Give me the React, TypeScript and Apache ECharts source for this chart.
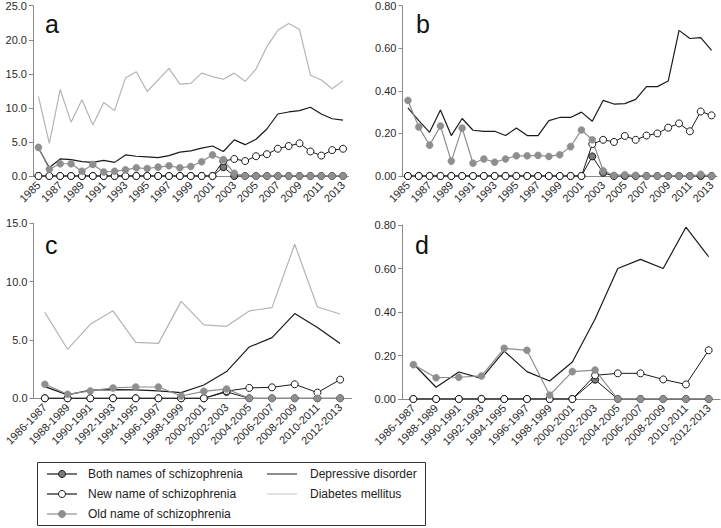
import React, { useEffect, useRef } from "react";
import * as echarts from "echarts";

// ---- data ----
const yearsA: string[] = [];
for (let y = 1985; y <= 2013; y++) yearsA.push(String(y));
const periods = [
  "1986-1987", "1988-1989", "1990-1991", "1992-1993", "1994-1995", "1996-1997", "1998-1999",
  "2000-2001", "2002-2003", "2004-2005", "2006-2007", "2008-2009", "2010-2011", "2012-2013",
];

// panel a
const aDiabetes = [11.7, 4.8, 12.7, 7.9, 11.2, 7.5, 10.8, 9.6, 14.4, 15.3, 12.4, 14.1, 15.8, 13.5, 13.6, 15.1, 14.6, 14.2, 15.1, 13.9, 15.7, 19.0, 21.4, 22.4, 21.5, 14.8, 14.1, 12.8, 14.0];
const aDepressive = [4.1, 1.2, 2.5, 2.4, 2.1, 2.0, 2.3, 2.0, 3.1, 2.9, 2.8, 2.7, 3.0, 3.5, 3.7, 4.1, 4.4, 3.6, 5.3, 4.6, 5.4, 6.9, 9.1, 9.4, 9.6, 10.1, 9.1, 8.4, 8.2];
const aBoth = [0, 0, 0, 0, 0, 0, 0, 0, 0, 0, 0, 0, 0, 0, 0, 0, 0, 1.3, 0, 0, 0, 0, 0, 0, 0, 0, 0, 0, 0];
const aNew = [0, 0, 0, 0, 0, 0, 0, 0, 0, 0, 0, 0, 0, 0, 0, 0, 0, 2.2, 2.5, 2.2, 2.9, 3.2, 4.0, 4.4, 4.8, 3.6, 3.0, 3.8, 4.0];
const aOld = [4.2, 1.0, 1.8, 1.8, 0.7, 1.7, 0.6, 0.7, 0.9, 1.2, 1.1, 1.3, 1.5, 1.2, 1.4, 2.1, 3.1, 2.4, 0.4, 0, 0, 0, 0, 0, 0, 0, 0, 0, 0];

// panel b
const bDepressive = [0.32, 0.26, 0.205, 0.31, 0.19, 0.27, 0.215, 0.21, 0.21, 0.19, 0.225, 0.19, 0.19, 0.26, 0.275, 0.275, 0.30, 0.257, 0.355, 0.338, 0.34, 0.36, 0.42, 0.42, 0.446, 0.684, 0.646, 0.65, 0.59];
const bBoth = [0, 0, 0, 0, 0, 0, 0, 0, 0, 0, 0, 0, 0, 0, 0, 0, 0, 0.092, 0.015, 0, 0, 0, 0, 0, 0, 0, 0, 0, 0];
const bNew = [0, 0, 0, 0, 0, 0, 0, 0, 0, 0, 0, 0, 0, 0, 0, 0, 0, 0.15, 0.17, 0.16, 0.188, 0.17, 0.19, 0.20, 0.227, 0.247, 0.21, 0.303, 0.285];
const bOld = [0.355, 0.23, 0.145, 0.235, 0.07, 0.225, 0.06, 0.08, 0.065, 0.08, 0.095, 0.095, 0.097, 0.092, 0.10, 0.138, 0.216, 0.17, 0.025, 0.003, 0.006, 0.003, 0, 0, 0, 0, 0, 0.008, 0];

// panel c
const cDiabetes = [7.37, 4.2, 6.34, 7.5, 4.8, 4.71, 8.31, 6.29, 6.17, 7.49, 7.77, 13.2, 7.83, 7.23];
const cDepressive = [1.0, 0.29, 0.71, 0.74, 0.72, 0.63, 0.49, 1.14, 2.29, 4.4, 5.2, 7.26, 6.06, 4.69];
const cBoth = [0, 0, 0, 0, 0, 0, 0, 0, 0.55, 0, 0, 0, 0, 0];
const cNew = [0, 0, 0, 0, 0, 0, 0, 0, 0.62, 0.89, 0.94, 1.2, 0.49, 1.6];
const cOld = [1.2, 0.34, 0.63, 0.89, 0.97, 0.97, 0.2, 0.6, 0.8, 0, 0, 0, 0, 0];

// panel d
const dDepressive = [0.162, 0.054, 0.124, 0.095, 0.22, 0.126, 0.083, 0.17, 0.368, 0.60, 0.642, 0.60, 0.79, 0.654];
const dBoth = [0, 0, 0, 0, 0, 0, 0, 0, 0.089, 0, 0, 0, 0, 0];
const dNew = [0, 0, 0, 0, 0, 0, 0, 0, 0.109, 0.118, 0.118, 0.09, 0.067, 0.224];
const dOld = [0.158, 0.098, 0.10, 0.106, 0.233, 0.224, 0.018, 0.126, 0.133, 0, 0, 0, 0, 0];

const FONT = "'Liberation Sans', Arial, sans-serif";
const C_DIAB = "#b4b4b4";
const C_DEP = "#1a1a1a";
const C_OLD = "#8e8e8e";
const C_BOTHFILL = "#7a7a7a";

export default function App() {
  const ref = useRef<HTMLDivElement>(null);
  useEffect(() => {
    if (!ref.current) return;
    const chart = echarts.init(ref.current, null, { renderer: "svg" });

    const grids = [
      { left: 33, top: 5.7, width: 315.5, height: 170.3 },
      { left: 402.5, top: 5.7, width: 314.5, height: 170.3 },
      { left: 33.5, top: 223.3, width: 318, height: 175 },
      { left: 402, top: 225, width: 318, height: 174 },
    ];
    const yCfg = [
      { max: 25, interval: 5, dec: 1 },
      { max: 0.8, interval: 0.2, dec: 2 },
      { max: 15, interval: 5, dec: 1 },
      { max: 0.8, interval: 0.2, dec: 2 },
    ];
    const cats = [yearsA, yearsA, periods, periods];

    const xAxis = cats.map((c, i) => ({
      type: "category" as const,
      gridIndex: i,
      data: c,
      boundaryGap: true,
      axisLine: { show: true, lineStyle: { color: "#8a8a8a", width: 1 } },
      axisTick: { show: false },
      axisLabel: {
        interval: i < 2 ? 1 : 0,
        rotate: 45,
        fontSize: 11,
        fontFamily: FONT,
        color: "#2a2a2a",
        margin: 7,
      },
      splitLine: { show: false },
    }));
    const yAxis = yCfg.map((y, i) => ({
      type: "value" as const,
      gridIndex: i,
      min: 0,
      max: y.max,
      interval: y.interval,
      axisLine: { show: true, lineStyle: { color: "#8a8a8a", width: 1 } },
      axisTick: { show: true, length: 4, lineStyle: { color: "#8a8a8a" } },
      axisLabel: {
        fontSize: 11,
        fontFamily: FONT,
        color: "#2a2a2a",
        margin: 6,
        formatter: (v: number) => v.toFixed(y.dec),
      },
      splitLine: { show: false },
    }));

    const series: any[] = [];
    const add = (i: number, kind: string, data: number[]) => {
      const base: any = {
        type: "line",
        xAxisIndex: i,
        yAxisIndex: i,
        data,
        silent: true,
        z: 2,
      };
      if (kind === "diab") {
        Object.assign(base, { name: "Diabetes mellitus", showSymbol: false, symbol: "none", lineStyle: { color: C_DIAB, width: 1.2 } });
      } else if (kind === "dep") {
        Object.assign(base, { name: "Depressive disorder", showSymbol: false, symbol: "none", lineStyle: { color: C_DEP, width: 1.2 } });
      } else if (kind === "both") {
        Object.assign(base, {
          name: "Both names of schizophrenia", symbol: "circle", symbolSize: 7,
          lineStyle: { color: C_DEP, width: 1 },
          itemStyle: { color: C_BOTHFILL, borderColor: C_DEP, borderWidth: 1 },
        });
      } else if (kind === "new") {
        Object.assign(base, {
          name: "New name of schizophrenia", symbol: "circle", symbolSize: 7,
          lineStyle: { color: C_DEP, width: 1 },
          itemStyle: { color: "#ffffff", borderColor: C_DEP, borderWidth: 1 },
        });
      } else {
        Object.assign(base, {
          name: "Old name of schizophrenia", symbol: "circle", symbolSize: 7,
          lineStyle: { color: C_OLD, width: 1.2 },
          itemStyle: { color: C_OLD, borderColor: C_OLD, borderWidth: 0.5 },
        });
      }
      series.push(base);
    };
    // panel a
    add(0, "diab", aDiabetes); add(0, "dep", aDepressive); add(0, "both", aBoth); add(0, "new", aNew); add(0, "old", aOld);
    // panel b
    add(1, "dep", bDepressive); add(1, "both", bBoth); add(1, "new", bNew); add(1, "old", bOld);
    // panel c
    add(2, "diab", cDiabetes); add(2, "dep", cDepressive); add(2, "both", cBoth); add(2, "new", cNew); add(2, "old", cOld);
    // panel d
    add(3, "dep", dDepressive); add(3, "both", dBoth); add(3, "new", dNew); add(3, "old", dOld);

    const letter = (t: string, x: number, y: number) => ({
      type: "text",
      x, y,
      style: { text: t, fontSize: 25, fontFamily: FONT, fill: "#111", verticalAlign: "middle", align: "left" },
    });

    // legend drawn as graphic
    const legX = 37, legY = 462, legW = 388, legH = 64;
    const rows = [474, 494, 514];
    const legItems: any[] = [
      { type: "rect", shape: { x: legX + 0.5, y: legY + 0.5, width: legW, height: legH - 1 }, style: { fill: "#fff", stroke: "#333", lineWidth: 1 } },
    ];
    const legSym = (row: number, lineColor: string, fill: string | null, stroke: string) => {
      const y = rows[row];
      legItems.push({ type: "line", shape: { x1: 47, y1: y, x2: 77, y2: y }, style: { stroke: lineColor, lineWidth: 1.2 } });
      if (fill) legItems.push({ type: "circle", shape: { cx: 62, cy: y, r: 3.5 }, style: { fill, stroke, lineWidth: 1 } });
    };
    legSym(0, C_DEP, C_BOTHFILL, C_DEP);
    legSym(1, C_DEP, "#ffffff", C_DEP);
    legSym(2, C_OLD, C_OLD, C_OLD);
    legItems.push({ type: "line", shape: { x1: 267, y1: rows[0], x2: 297, y2: rows[0] }, style: { stroke: "#444", lineWidth: 1.2 } });
    legItems.push({ type: "line", shape: { x1: 267, y1: rows[1], x2: 297, y2: rows[1] }, style: { stroke: "#d0d0d0", lineWidth: 1.2 } });
    const legText = (t: string, x: number, y: number) => ({
      type: "text", x, y,
      style: { text: t, fontSize: 12, fontFamily: FONT, fill: "#222", verticalAlign: "middle", align: "left" },
    });
    legItems.push(legText("Both names of schizophrenia", 88, rows[0]));
    legItems.push(legText("New name of schizophrenia", 88, rows[1]));
    legItems.push(legText("Old name of schizophrenia", 88, rows[2]));
    legItems.push(legText("Depressive disorder", 310, rows[0]));
    legItems.push(legText("Diabetes mellitus", 310, rows[1]));

    chart.setOption({
      animation: false,
      backgroundColor: "#ffffff",
      textStyle: { fontFamily: FONT },
      grid: grids.map((g) => ({ ...g, containLabel: false })),
      xAxis,
      yAxis,
      series,
      graphic: [
        letter("a", 45, 24.3),
        letter("b", 416, 24.3),
        letter("c", 45, 244.6),
        letter("d", 415, 244.6),
        ...legItems,
      ],
    });
    return () => chart.dispose();
  }, []);
  return <div ref={ref} style={{ position: "fixed", left: 0, top: 0, width: 721, height: 528 }} />;
}
